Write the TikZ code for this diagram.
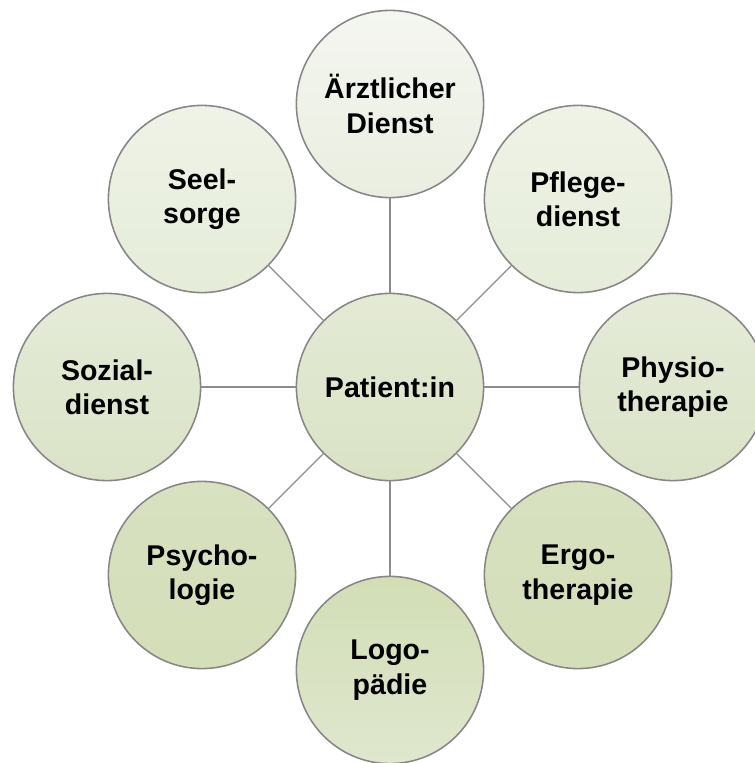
\documentclass[tikz,border=0pt]{standalone}
\usepackage{fontspec}
\setmainfont{Liberation Sans}
\usepackage{tikz}
\usetikzlibrary{positioning, calc}

\definecolor{rand}{HTML}{868686}
\definecolor{linie}{HTML}{8C8C8C}

\tikzset{
  kreis/.style={circle, draw=rand, line width=1.1pt, minimum size=4.68cm, inner sep=0pt,
    align=center, font=\bfseries\fontsize{20.3}{24.4}\selectfont},
  speiche/.style={draw=linie, line width=1pt}
}

\begin{document}
\begin{tikzpicture}
  \useasboundingbox (-9.75,-9.4) rectangle (9.125,9.675);

  % ---------- mitte ----------
  \node[kreis, top color={rgb,255:red,228;green,234;blue,213}, bottom color={rgb,255:red,217;green,226;blue,197}]
    (pat) at (0,0) {Patient:in};

  % ---------- aussenkreise ----------
  \node[kreis, top color={rgb,255:red,244;green,246;blue,240}, bottom color={rgb,255:red,234;green,238;blue,224}]
    (arzt) at (0,7.075) {Ärztlicher\\Dienst};
  \node[kreis, top color={rgb,255:red,239;green,243;blue,231}, bottom color={rgb,255:red,229;green,236;blue,216}]
    (pflege) at (4.7,4.7) {Pflege-\\dienst};
  \node[kreis, top color={rgb,255:red,229;green,235;blue,216}, bottom color={rgb,255:red,218;green,227;blue,199}]
    (physio) at (7.075,0) {Physio-\\therapie};
  \node[kreis, top color={rgb,255:red,216;green,225;blue,192}, bottom color={rgb,255:red,212;green,222;blue,184}]
    (ergo) at (4.7,-4.7) {Ergo-\\therapie};
  \node[kreis, top color={rgb,255:red,210;green,222;blue,182}, bottom color={rgb,255:red,223;green,231;blue,206}]
    (logo) at (0,-7.075) {Logo-\\pädie};
  \node[kreis, top color={rgb,255:red,216;green,225;blue,192}, bottom color={rgb,255:red,212;green,222;blue,184}]
    (psycho) at (-4.7,-4.7) {Psycho-\\logie};
  \node[kreis, top color={rgb,255:red,229;green,235;blue,216}, bottom color={rgb,255:red,218;green,227;blue,199}]
    (sozial) at (-7.075,0) {Sozial-\\dienst};
  \node[kreis, top color={rgb,255:red,239;green,243;blue,231}, bottom color={rgb,255:red,229;green,236;blue,216}]
    (seel) at (-4.7,4.7) {Seel-\\sorge};

  % speichen von der mitte nach aussen
  \draw[speiche] (pat) -- (arzt);
  \draw[speiche] (pat) -- (pflege);
  \draw[speiche] (pat) -- (physio);
  \draw[speiche] (pat) -- (ergo);
  \draw[speiche] (pat) -- (logo);
  \draw[speiche] (pat) -- (psycho);
  \draw[speiche] (pat) -- (sozial);
  \draw[speiche] (pat) -- (seel);
\end{tikzpicture}
\end{document}
